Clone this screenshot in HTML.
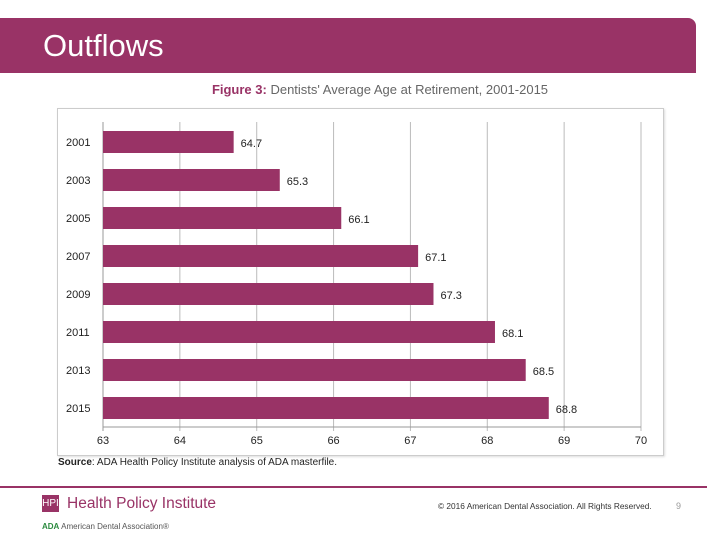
<!DOCTYPE html>
<html><head><meta charset="utf-8"><style>
body{margin:0;width:720px;height:540px;background:#fff;position:relative;overflow:hidden;font-family:"Liberation Sans",sans-serif}
.abs{position:absolute}
</style></head><body>
<div class="abs" style="left:0;top:18px;width:696px;height:55px;background:#993366;border-top-right-radius:8px"></div>
<div class="abs" style="left:43px;top:28px;font-size:31px;color:#fff">Outflows</div>
<div class="abs" style="left:0;width:760px;text-align:center;top:82px;font-size:13px;color:#666"><b style="color:#993366">Figure 3:</b> Dentists' Average Age at Retirement, 2001-2015</div>
<div class="abs" style="left:57px;top:108px;width:605px;height:346px;border:1px solid #ccc;box-shadow:1px 1px 2px #ddd"></div>
<svg class="abs" style="left:0;top:0" width="720" height="540" id="chart"></svg>
<div class="abs" style="left:58px;top:457px;font-size:10px;color:#222"><b>Source</b>: ADA Health Policy Institute analysis of ADA masterfile.</div>
<div class="abs" style="left:0;top:486px;width:707px;height:2px;background:#993366"></div>
<div class="abs" style="left:42px;top:495px;width:17px;height:17px;background:#993366;color:#fff;font-size:10px;line-height:17px;text-align:center">HPI</div>
<div class="abs" style="left:67px;top:495px;font-size:15.5px;color:#993366">Health Policy Institute</div>
<div class="abs" style="left:42px;top:522px;font-size:8px;color:#555"><b style="color:#2a8a3e">ADA</b> American Dental Association®</div>
<div class="abs" style="left:438px;top:501px;font-size:8.3px;color:#333">© 2016 American Dental Association. All Rights Reserved.</div>
<div class="abs" style="left:676px;top:501px;font-size:9px;color:#999">9</div>
<script>
const categories=["2001","2003","2005","2007","2009","2011","2013","2015"];
const values=[64.7,65.3,66.1,67.1,67.3,68.1,68.5,68.8];
const ticks=[63,64,65,66,67,68,69,70];
const svg=document.getElementById('chart');
const NS='http://www.w3.org/2000/svg';
const x0=103,x1=641,xmin=63,xmax=70;
const xs=v=>x0+(v-xmin)/(xmax-xmin)*(x1-x0);
const ys=i=>142+i*38;
function mk(t,a){const e=document.createElementNS(NS,t);for(const k in a)e.setAttribute(k,a[k]);svg.appendChild(e);return e;}
ticks.forEach(t=>{
 const l=mk('line',{x1:xs(t),x2:xs(t),y1:122,y2:431,stroke:t===xmin?'#999':'#bbb','stroke-width':1});
 
 
 const tx=mk('text',{x:xs(t),y:444,'font-size':11,'text-anchor':'middle',fill:'#222'});
 tx.textContent=t;
 
 
});
const ax=mk('line',{x1:x0,x2:x1,y1:427,y2:427,stroke:'#999'});


categories.forEach((c,i)=>{
 const y=ys(i);
 const r=mk('rect',{x:x0,y:y-11,width:xs(values[i])-x0,height:22,fill:'#993366'});
 
 
 const lb=mk('text',{x:66,y:y+4,'font-size':11,fill:'#222'});
 lb.textContent=c;
 
 
 const v=mk('text',{x:xs(values[i])+7,y:y+5,'font-size':11,fill:'#222'});
 v.textContent=values[i].toFixed(1);
 
 
});
</script>
</body></html>
